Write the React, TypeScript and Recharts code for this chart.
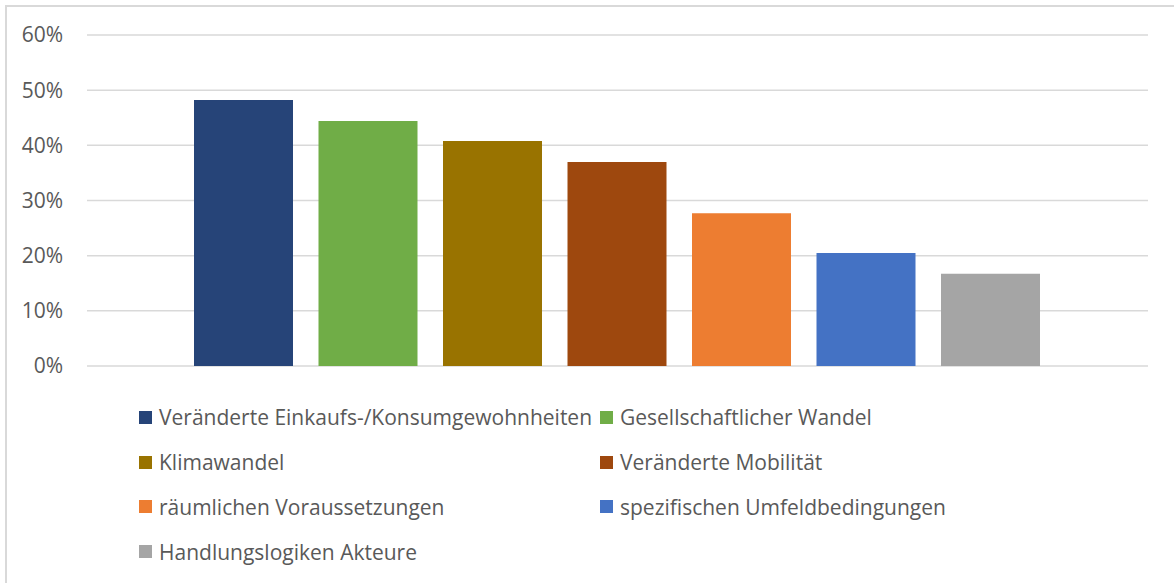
import { BarChart, Bar, XAxis, YAxis, CartesianGrid } from "recharts";

const seriesNames = [
  "Veränderte Einkaufs-/Konsumgewohnheiten",
  "Gesellschaftlicher Wandel",
  "Klimawandel",
  "Veränderte Mobilität",
  "räumlichen Voraussetzungen",
  "spezifischen Umfeldbedingungen",
  "Handlungslogiken Akteure",
];
const seriesValues = [48.2, 44.4, 40.8, 37.0, 27.7, 20.5, 16.7];
const seriesColors = ["#264478", "#70AD47", "#997300", "#9E480E", "#ED7D31", "#4472C4", "#A5A5A5"];
const yTicks = [0, 10, 20, 30, 40, 50, 60];

// one category, one bar per series (like the Excel original)
const row: Record<string, string | number> = { name: "" };
seriesValues.forEach((v, i) => { row["s" + i] = v; });
const data = [row];

const font = "'Open Sans', sans-serif";
const textColor = "#595959";

export default function App() {
  return (
    <div style={{ position: "absolute", left: 0, top: 0, width: 1174, height: 583, overflow: "hidden", background: "#fff", fontFamily: font }}>
      <div style={{ position: "absolute", left: 5, top: 5, width: 1190, height: 600, border: "2px solid #d9d9d9", boxSizing: "border-box" }} />
      <BarChart width={1174} height={583} data={data} margin={{ top: 35, right: 26, bottom: 217, left: 5 }} barCategoryGap={107} barGap={25.5}>
        <CartesianGrid vertical={false} stroke="#d9d9d9" strokeWidth={1.5} />
        <XAxis dataKey="name" hide />
        <YAxis
          width={82}
          domain={[0, 60]}
          ticks={yTicks}
          tickFormatter={(v: number) => `${v}%`}
          axisLine={false}
          tickLine={false}
          tickSize={0}
          tickMargin={24}
          tick={{ fill: textColor, fontSize: 21, fontFamily: font }}
        />
        {seriesNames.map((n, i) => (
          <Bar key={n} dataKey={"s" + i} name={n} fill={seriesColors[i]} isAnimationActive={false} />
        ))}
      </BarChart>
      <div style={{ position: "absolute", left: 139, top: 395, display: "grid", gridTemplateColumns: "461px auto", gridAutoRows: "44.8px", alignItems: "center" }}>
        {seriesNames.map((n, i) => (
          <div key={n} style={{ display: "flex", alignItems: "center", color: textColor, fontSize: 21, whiteSpace: "nowrap" }}>
            <span style={{ width: 13, height: 13, background: seriesColors[i], display: "inline-block", marginRight: 7 }} />
            {n}
          </div>
        ))}
      </div>
    </div>
  );
}
